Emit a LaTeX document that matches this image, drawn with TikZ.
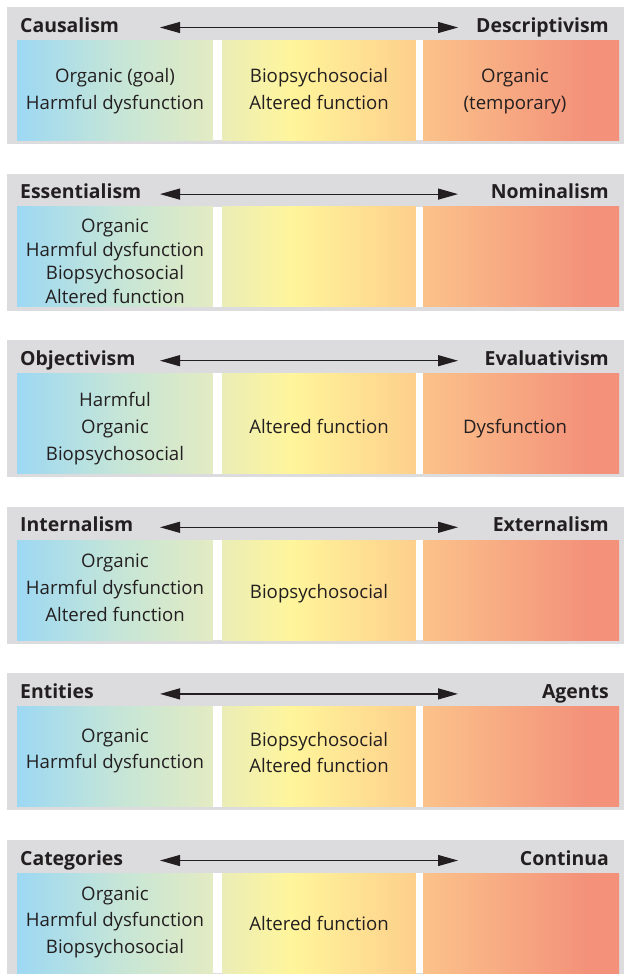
\documentclass[tikz,border=0pt]{standalone}
\usepackage{fontspec}
\setmainfont{Open Sans}
\usepackage{tikz}
\usetikzlibrary{arrows.meta}

\definecolor{panelgray}{HTML}{DCDCDE}
\definecolor{inkgray}{HTML}{231F20}
\definecolor{bandblue}{HTML}{9DD8F3}
\definecolor{bandteal}{HTML}{C4E5D8}
\definecolor{bandsage}{HTML}{E3EBC2}
\definecolor{bandlime}{HTML}{EAEDB7}
\definecolor{bandyellow}{HTML}{FFF59B}
\definecolor{bandorange}{HTML}{FDCF8B}
\definecolor{bandapricot}{HTML}{FBC28A}
\definecolor{bandsalmon}{HTML}{F3917A}

% the three colour bands of every row
\pgfdeclarehorizontalshading{leftband}{100bp}{color(0bp)=(bandblue); color(25bp)=(bandblue);
  color(50bp)=(bandteal); color(75bp)=(bandsage); color(100bp)=(bandsage)}
\pgfdeclarehorizontalshading{midband}{100bp}{color(0bp)=(bandlime); color(25bp)=(bandlime);
  color(43bp)=(bandyellow); color(75bp)=(bandorange); color(100bp)=(bandorange)}
\pgfdeclarehorizontalshading{rightband}{100bp}{color(0bp)=(bandapricot); color(25bp)=(bandapricot);
  color(67bp)=(bandsalmon); color(100bp)=(bandsalmon)}

\tikzset{
    band cell/.style={
        anchor=north west,inner sep=0pt,
        minimum height=100bp
    },
    header label/.style={
        inner sep=0pt,text=inkgray,
        font=\bfseries\fontsize{19.5}{22}\selectfont
    },
    band text/.style={
        anchor=north,inner sep=0pt,align=center,text=inkgray
    },
    >={Triangle[length=20bp,width=11bp]}
}

\begin{document}
\begin{tikzpicture}[x=1bp,y=-1bp]
\clip (0,0) rectangle (625,974);
% row / poles / line spacing / first baselines (left, middle+right) / texts
\foreach \i/\lname/\rname/\lsp/\lbase/\mbase/\ltext/\mtext/\rtext in {
    0/Causalism/Descriptivism/26.5/75.5/75.3/{Organic (goal)\\Harmful dysfunction}/{Biopsychosocial\\Altered function}/{Organic\\(temporary)},
    1/Essentialism/Nominalism/23.5/58.7/60/{Organic\\Harmful dysfunction\\Biopsychosocial\\Altered function}/{}/{},
    2/Objectivism/Evaluativism/27/66.5/93/{Harmful\\Organic\\Biopsychosocial}/{Altered function}/{Dysfunction},
    3/Internalism/Externalism/27/60/91.5/{Organic\\Harmful dysfunction\\Altered function}/{Biopsychosocial}/{},
    4/Entities/Agents/26/69.3/73.3/{Organic\\Harmful dysfunction}/{Biopsychosocial\\Altered function}/{},
    5/Categories/Continua/26.7/60/90/{Organic\\Harmful dysfunction\\Biopsychosocial}/{Altered function}/{}}
{
    \pgfmathsetmacro{\ytop}{7+166.6*\i}
    \fill[panelgray] (7,\ytop) rectangle (624,\ytop+137);
    % header: the two poles and the arrow between them
    \node[header label,anchor=base west] (lname_\i) at (20,\ytop+25) {\lname};
    \node[header label,anchor=base east] (rname_\i) at (609,\ytop+25) {\rname};
    \coordinate (arrL_\i) at (160,\ytop+20.5);
    \coordinate (arrR_\i) at (458,\ytop+20.5);
    \draw[inkgray,line width=1.2bp,<->] (arrL_\i) -- (arrR_\i);
    % colour bands
    \node[band cell,shading=leftband,minimum width=196bp] (col_l_\i) at (17,\ytop+33) {};
    \node[band cell,shading=midband,minimum width=194bp] (col_m_\i) at (222,\ytop+33) {};
    \node[band cell,shading=rightband,minimum width=196bp] (col_r_\i) at (423,\ytop+33) {};
    \fill[white] (col_l_\i.north east) rectangle (col_m_\i.south west);
    \fill[white] (col_m_\i.north east) rectangle (col_r_\i.south west);
    % texts, hung from the strut of their first line
    \node[band text,font=\fontsize{18.7}{\lsp bp}\selectfont] (txt_l_\i) at (115,\ytop+\lbase-0.7*\lsp) {\strut\ltext};
    \node[band text,font=\fontsize{18.7}{\lsp bp}\selectfont] (txt_m_\i) at (319,\ytop+\mbase-0.7*\lsp) {\strut\mtext};
    \node[band text,font=\fontsize{18.7}{\lsp bp}\selectfont] (txt_r_\i) at (515,\ytop+\mbase-0.7*\lsp) {\strut\rtext};
}
\end{tikzpicture}
\end{document}
